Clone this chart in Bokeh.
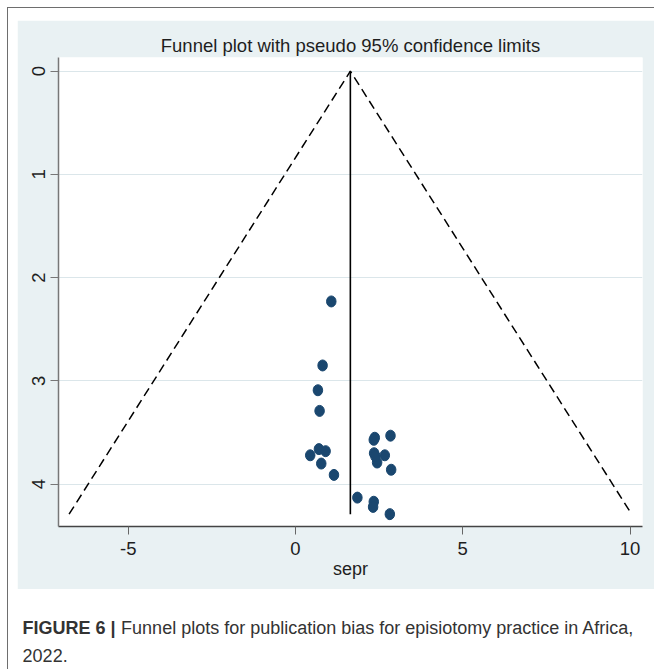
from bokeh.plotting import figure
from bokeh.models import Range1d, FixedTicker, Label, Plot, Column, Row
from bokeh.embed import file_html
from bokeh.resources import INLINE

# ---- data ----
effect = [1.07, 0.81, 0.67, 0.72, 0.44, 0.70, 0.90, 0.77, 1.15,
          2.37, 2.34, 2.84, 2.35, 2.67, 2.44, 2.86, 2.39,
          1.85, 2.34, 2.32, 2.82]
se = [2.23, 2.85, 3.09, 3.29, 3.72, 3.66, 3.68, 3.80, 3.91,
      3.55, 3.57, 3.53, 3.70, 3.72, 3.79, 3.86, 3.73,
      4.13, 4.17, 4.22, 4.29]
theta = 1.64          # pooled estimate (vertical line)
z95 = 1.96
x_ticks = [-5, 0, 5, 10]
y_ticks = [0, 1, 2, 3, 4]
title_text = "Funnel plot with pseudo 95% confidence limits"
x_label = "sepr"
caption_bold = "FIGURE 6 |"
caption_rest = "Funnel plots for publication bias for episiotomy practice in Africa,"
caption_line2 = "2022."

FONT = "Liberation Sans"
NAVY = "#1a476f"
BLUE_BG = "#e9f1f3"

# page-pixel -> data helpers (layout only)
X0, SX = 295.0, 33.45
Y0, SY = 70.7, 103.25
def dx(px):
    return (px - X0) / SX
def dy(py):
    return (py - Y0) / SY

# ---------- main graph (Stata graph region) ----------
p = figure(width=637, height=569,
           x_range=Range1d(dx(58), dx(642)),
           y_range=Range1d(dy(526), dy(57)),
           output_backend="svg", toolbar_location=None,
           min_border_left=41, min_border_right=12,
           min_border_top=37, min_border_bottom=63,
           margin=(12, 0, 0, 9))
p.border_fill_color = BLUE_BG
p.background_fill_color = "white"
p.outline_line_color = None

p.title.text = title_text
p.title.align = "center"
p.title.text_font = FONT
p.title.text_font_size = "18.5px"
p.title.text_font_style = "normal"
p.title.text_color = "#1e1e1e"
p.title.standoff = 3

# grid
p.xgrid.grid_line_color = None
p.ygrid.grid_line_color = "#dbe6ea"
p.ygrid.grid_line_width = 1.2
p.ygrid.ticker = FixedTicker(ticks=y_ticks)

# axes
p.xaxis.ticker = FixedTicker(ticks=x_ticks)
p.xaxis.major_label_overrides = {t: str(t) for t in x_ticks}
p.yaxis.ticker = FixedTicker(ticks=y_ticks)
for ax in (p.xaxis[0], p.yaxis[0]):
    ax.major_tick_out = 8
    ax.major_tick_in = 0
    ax.minor_tick_out = 0
    ax.minor_tick_in = 0
    ax.major_label_text_font = FONT
    ax.major_label_text_font_size = "18.5px"
    ax.major_label_text_color = "#1e1e1e"
    ax.axis_label_text_font = FONT
    ax.axis_label_text_font_size = "18px"
    ax.axis_label_text_font_style = "normal"
    ax.axis_label_text_color = "#1e1e1e"
p.xaxis.axis_line_color = "#444444"
p.xaxis.major_tick_line_color = "#666666"
p.yaxis.axis_line_color = "#777777"
p.yaxis.major_tick_line_color = "#777777"
p.xaxis.axis_line_width = 1.5
p.yaxis.axis_line_width = 1.5
p.xaxis.major_label_standoff = 7
p.yaxis.major_label_standoff = 5
p.yaxis.major_label_orientation = "vertical"
p.xaxis.axis_label = x_label
p.xaxis.axis_label_standoff = 1

# funnel (pseudo 95% limits)
semax = max(se)
p.line([theta - z95 * semax, theta, theta + z95 * semax], [semax, 0, semax],
       line_color="black", line_width=1.5, line_dash="9 5")
p.line([theta, theta], [0, semax], line_color="black", line_width=1.6)

# studies
p.ellipse(x=effect, y=se, width=9.5, height=11, width_units="screen",
          height_units="screen", fill_color=NAVY, line_color=NAVY)

# ---------- caption (coordinates = page pixels) ----------
CAP_L, CAP_T, CAP_W, CAP_H = 8.4, 589.4, 644, 80
cap = Plot(width=CAP_W, height=CAP_H, title=None, toolbar_location=None,
           output_backend="svg", outline_line_color=None,
           min_border_left=0, min_border_right=0,
           min_border_top=0, min_border_bottom=0,
           x_range=Range1d(CAP_L, CAP_L + CAP_W),
           y_range=Range1d(CAP_T + CAP_H, CAP_T),
           background_fill_color="white", border_fill_color="white")
cap.add_layout(Label(x=22.5, y=628, text=caption_bold, text_baseline="middle",
                     text_font=FONT, text_font_style="bold",
                     text_font_size="18px", text_color="#333333"))
cap.add_layout(Label(x=121, y=628, text=caption_rest, text_baseline="middle",
                     text_font=FONT, text_font_size="18px",
                     text_color="#333333"))
cap.add_layout(Label(x=22.5, y=655, text=caption_line2, text_baseline="middle",
                     text_font=FONT, text_font_size="18px",
                     text_color="#333333"))

root = Column(children=[p, Row(children=[cap])], margin=(7, 0, 0, 7), spacing=0,
              styles={"border-top": "1.4px solid #6e6e6e",
                      "border-left": "1.4px solid #6e6e6e",
                      "background-color": "white"})

open("out.html", "w").write(file_html(root, INLINE))
